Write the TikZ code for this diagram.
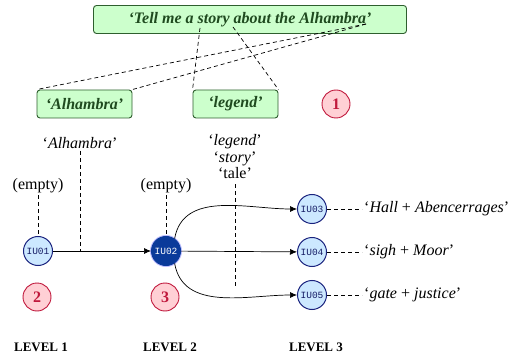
\documentclass[tikz,border=0pt]{standalone}
\usepackage{fontspec}
\setmainfont{Liberation Serif}
\setmonofont{Liberation Mono}
\usetikzlibrary{arrows.meta}
\definecolor{boxfill}{HTML}{CCFFCC}
\definecolor{boxline}{HTML}{2E5E2E}
\definecolor{boxtext}{HTML}{1F4A1F}
\definecolor{numfill}{HTML}{FFD0D5}
\definecolor{numline}{HTML}{C0183C}
\definecolor{iufill}{HTML}{CCE8FF}
\definecolor{iuline}{HTML}{1A237E}
\definecolor{iudark}{HTML}{0A3A9A}
\tikzset{
	termbox/.style={fill=boxfill, draw=boxline, line width=0.9pt, rounded corners=3pt, text=boxtext, font=\fontsize{16}{18}\selectfont\bfseries\itshape, minimum height=28pt, inner sep=0pt},
	numcirc/.style={circle, fill=numfill, draw=numline, line width=0.9pt, text=numline, minimum size=28pt, inner sep=0pt, font=\fontsize{16}{18}\selectfont\bfseries},
	iunode/.style={circle, fill=iufill, draw=iuline, line width=1pt, text=iuline!80!black, minimum size=29pt, inner sep=0pt, font=\ttfamily\fontsize{9.5}{10}\selectfont},
	lbl/.style={font=\fontsize{16}{18}\selectfont, inner sep=2pt},
	lvl/.style={font=\fontsize{13}{15}\selectfont\bfseries},
	link/.style={dash pattern=on 4pt off 3pt, line width=0.7pt},
	flow/.style={-{Latex[length=7pt,width=6pt]}, line width=0.7pt}
}
\begin{document}
\begin{tikzpicture}[x=1pt, y=-1pt]
	\useasboundingbox (0,0) rectangle (516,355);
	% query and its terms
	\node [termbox, minimum width=313pt] (query) at (250,19.5) {‘Tell me a story about the Alhambra’};
	\node [termbox, minimum width=95pt] (alh) at (84.5,104) {‘Alhambra’};
	\node [termbox, minimum width=85pt] (leg) at (235.5,104) {‘legend’};
	\coordinate (qalh) at (366,24);
	\coordinate (qstory) at (200,28);
	\coordinate (qabout) at (233,27);
	\draw [link] (qalh) to (alh.north west);
	\draw [link] (qalh) to (alh.north east);
	\draw [link] (qstory) to (leg.north west);
	\draw [link] (qabout) to (leg.north east);
	\node [numcirc] (n1) at (336,104) {1};
	% interpretation units
	\node [iunode] (iu01) at (38,251) {IU01};
	\node [iunode, fill=iudark, draw=iudark, text=white, preaction={draw=blue!25, line width=3pt}] (iu02) at (166,251) {IU02};
	\node [iunode] (iu03) at (312,209) {IU03};
	\node [iunode] (iu04) at (312,252) {IU04};
	\node [iunode] (iu05) at (312,295) {IU05};
	\draw [flow] (iu01) to (iu02);
	\draw [flow] (iu02.55) to [out=80, in=180] (iu03.west);
	\draw [flow] (iu02) to (iu04);
	\draw [flow] (iu02.-55) to [out=-80, in=180] (iu05.west);
	% labels
	\node [lbl] (e1) at (38,186) {(empty)};
	\node [lbl] (e2) at (166,186) {(empty)};
	\draw [link] (e1) to (iu01);
	\draw [link] (e2) to (iu02);
	\node [lbl] (lalh) at (80,143) {‘\textit{Alhambra}’};
	\coordinate (jalh) at (80,251);
	\draw [link] (lalh) to (jalh);
	\node [lbl, align=center, font=\fontsize{16}{16.5}\selectfont] (lleg) at (235,157) {‘\textit{legend}’\\‘\textit{story}’\\‘tale’};
	\coordinate (jleg) at (235,288);
	\draw [link] (lleg.south) ++(0,3) coordinate (lleg-s) (lleg-s) to (jleg);
	\node [lbl, anchor=west] (t3) at (362,209) {‘\textit{Hall} + \textit{Abencerrages}’};
	\node [lbl, anchor=west] (t4) at (362,252) {‘\textit{sigh} + \textit{Moor}’};
	\node [lbl, anchor=west] (t5) at (362,295) {‘\textit{gate} + \textit{justice}’};
	\draw [link] (iu03) to (t3);
	\draw [link] (iu04) to (t4);
	\draw [link] (iu05) to (t5);
	\node [numcirc] (n2) at (37,297) {2};
	\node [numcirc] (n3) at (165,297) {3};
	% levels
	\node [lvl] (lv1) at (41,347) {LEVEL 1};
	\node [lvl] (lv2) at (170,347) {LEVEL 2};
	\node [lvl] (lv3) at (316,347) {LEVEL 3};
\end{tikzpicture}
\end{document}
